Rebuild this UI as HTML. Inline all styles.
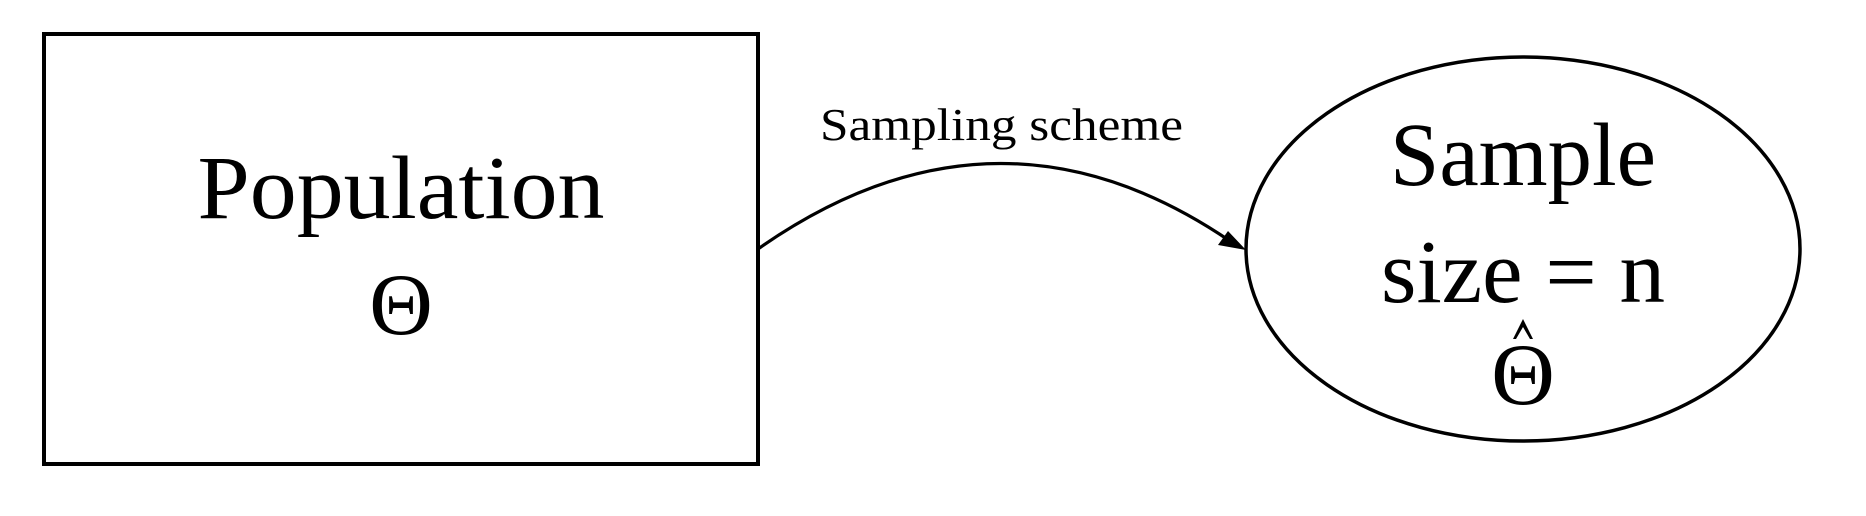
<!DOCTYPE html>
<html><head><meta charset="utf-8"><style>html,body{margin:0;padding:0;background:#fff}svg{display:block}</style></head>
<body>
<svg width="1866" height="516" viewBox="0 0 1866 516" xmlns="http://www.w3.org/2000/svg" font-family="'Liberation Serif', serif" fill="#000">
<rect x="44" y="34" width="714" height="430" fill="none" stroke="#000" stroke-width="4"/>
<ellipse cx="1523" cy="249" rx="277" ry="192" fill="none" stroke="#000" stroke-width="3.5"/>
<path d="M758 249 Q996 82 1230 241" fill="none" stroke="#000" stroke-width="3.2"/>
<polygon points="1246,250 1218,245 1228,231" fill="#000"/>
<text x="820" y="140" font-size="46" textLength="363" lengthAdjust="spacingAndGlyphs">Sampling scheme</text>
<text x="401" y="218" font-size="90" text-anchor="middle" textLength="407" lengthAdjust="spacingAndGlyphs">Population</text>
<text x="401" y="334" font-size="88" text-anchor="middle">Θ</text>
<text x="1523" y="185" font-size="90" text-anchor="middle" textLength="266" lengthAdjust="spacingAndGlyphs">Sample</text>
<text x="1523" y="302" font-size="90" text-anchor="middle" textLength="284" lengthAdjust="spacingAndGlyphs">size = n</text>
<text x="1523" y="404" font-size="88" text-anchor="middle">Θ</text>
<polygon points="1523,319 1533,339 1530,339 1523,327 1516,339 1513,339" fill="#000"/>
</svg>
</body></html>
